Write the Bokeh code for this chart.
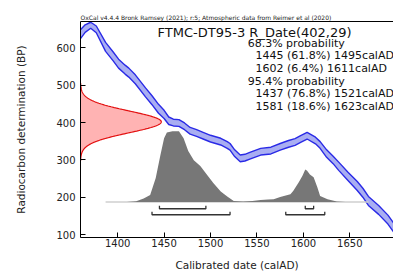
import numpy as np
from bokeh.plotting import figure
from bokeh.models import Label, LinearAxis, FixedTicker
from bokeh.embed import file_html
from bokeh.resources import INLINE

# ---------------- data ----------------
title_text = "OxCal v4.4.4 Bronk Ramsey (2021); r:5; Atmospheric data from Reimer et al (2020)"
sample_label = "FTMC-DT95-3 R_Date(402,29)"
prob_lines = [
    ("68.3% probability", False),
    ("1445 (61.8%) 1495calAD", True),
    ("1602 (6.4%) 1611calAD", True),
    ("95.4% probability", False),
    ("1437 (76.8%) 1521calAD", True),
    ("1581 (18.6%) 1623calAD", True),
]

# radiocarbon date
c14_mean = 402
c14_sigma = 29

# calibration curve (calAD, BP, 1-sigma)
curve_year = [1360, 1365, 1371, 1377, 1387, 1395, 1401, 1408, 1412, 1419, 1430, 1437,
              1444, 1450, 1455, 1460, 1466, 1472, 1478, 1485, 1492, 1500, 1511, 1518,
              1521, 1526, 1532, 1537, 1543, 1554, 1565, 1575, 1584, 1591, 1597, 1604,
              1613, 1618, 1625, 1632, 1638, 1648, 1658, 1664, 1670, 1681, 1691, 1697]
curve_bp = [637, 652, 661, 650, 603, 578, 558, 542, 534, 516, 481, 460,
            437, 422, 405, 400, 399, 390, 378, 372, 365, 357, 349, 340,
            335, 318, 304, 306, 312, 322, 325, 335, 343, 348, 356, 365,
            352, 340, 317, 300, 283, 256, 230, 212, 190, 166, 140, 119]
curve_sig = [12, 10, 8, 9, 12, 12, 12, 12, 12, 12, 12, 12,
             12, 11, 10, 9, 9, 9, 9, 9, 9, 9, 9, 9,
             9, 9, 9, 9, 9, 9, 9, 9, 9, 9, 9, 9,
             9, 9, 10, 10, 11, 11, 12, 12, 12, 12, 12, 12]

# calibrated probability distribution (calAD, relative probability)
dist_year = [1387, 1410, 1420, 1428, 1435, 1441, 1446, 1450, 1453, 1459, 1466, 1471,
             1476, 1482, 1489, 1497, 1503, 1511, 1518, 1525, 1535, 1545, 1554, 1562,
             1568, 1575, 1579, 1586, 1589, 1595, 1599, 1602, 1604, 1607, 1611, 1615,
             1618, 1626, 1636, 1645, 1670]
dist_prob = [0.0, 0.0, 0.01, 0.05, 0.10, 0.34, 0.66, 0.90, 0.98, 1.0, 1.0, 0.90,
             0.72, 0.59, 0.51, 0.37, 0.27, 0.15, 0.08, 0.015, 0.007, 0.015, 0.03, 0.035,
             0.04, 0.07, 0.085, 0.11, 0.155, 0.28, 0.37, 0.46, 0.44, 0.39, 0.35, 0.21,
             0.085, 0.04, 0.007, 0.0, 0.0]

range68 = [(1445, 1495), (1602, 1611)]
range95 = [(1437, 1521), (1581, 1623)]

# ---------------- figure ----------------
FONT = "DejaVu Sans"
x0, x1 = 1360, 1697
y0, y1 = 92, 671

p = figure(width=393, height=273, x_range=(x0, x1), y_range=(y0, y1),
           output_backend="svg", toolbar_location=None,
           min_border_left=80, min_border_right=0, min_border_top=21, min_border_bottom=33)
p.outline_line_color = None
p.xgrid.visible = False
p.ygrid.visible = False
p.background_fill_color = "white"
p.border_fill_color = "white"

p.title.text = title_text
p.title.text_font = FONT
p.title.text_font_size = "6px"
p.title.text_font_style = "normal"
p.title.align = "left"
p.title.standoff = 1
p.title.text_color = "#222222"

for ax in (p.xaxis[0], p.yaxis[0]):
    ax.major_tick_in = 5
    ax.major_tick_out = 0
    ax.minor_tick_in = 3
    ax.minor_tick_out = 0
    ax.major_label_text_font = FONT
    ax.major_label_text_font_size = "10px"
    ax.major_label_text_color = "#222222"
    ax.axis_label_text_font = FONT
    ax.axis_label_text_font_size = "10.5px"
    ax.axis_label_text_font_style = "normal"
    ax.axis_label_text_color = "#222222"
    ax.axis_line_color = "black"
    ax.major_tick_line_color = "black"
    ax.minor_tick_line_color = "black"

p.xaxis.ticker = [1400, 1450, 1500, 1550, 1600, 1650]
p.xaxis[0].ticker.num_minor_ticks = 5
p.xaxis.axis_label = "Calibrated date (calAD)"
p.xaxis.major_label_standoff = 1
p.xaxis.axis_label_standoff = 9

p.yaxis.ticker = [100, 200, 300, 400, 500, 600]
p.yaxis[0].ticker.num_minor_ticks = 10
p.yaxis.axis_label = "Radiocarbon determination (BP)"
p.yaxis.major_label_standoff = 5
p.yaxis.axis_label_standoff = 26

# top frame line as an empty axis
top_axis = LinearAxis(ticker=FixedTicker(ticks=[]), major_tick_in=0, major_tick_out=0,
                      minor_tick_in=0, minor_tick_out=0, major_label_text_font_size="0px",
                      axis_line_color="black", axis_line_width=1.2)
p.add_layout(top_axis, "above")

# calibration curve band
cy = np.array(curve_year, dtype=float)
cb = np.array(curve_bp, dtype=float)
cs = np.array(curve_sig, dtype=float)
p.varea(x=cy, y1=cb - cs, y2=cb + cs, fill_color="#a9aef2")
p.line(cy, cb + cs, line_color="#2a2ae6", line_width=1.4)
p.line(cy, cb - cs, line_color="#2a2ae6", line_width=1.4)

# radiocarbon date gaussian on y-axis
ys = np.linspace(c14_mean - 3.6 * c14_sigma, c14_mean + 3.6 * c14_sigma, 200)
g = np.exp(-0.5 * ((ys - c14_mean) / c14_sigma) ** 2)
gx = x0 + 87 * g
p.harea(y=ys, x1=np.full_like(ys, x0), x2=gx, fill_color="#ff9a9a", fill_alpha=0.75)
p.line(gx, ys, line_color="#e31010", line_width=1.2)

# calibrated distribution
base = 187
scale = 190
dy = np.array(dist_year, dtype=float)
dp = np.array(dist_prob, dtype=float)
p.line([dy[0], dy[-1]], [base, base], line_color="#cfcfcf", line_width=1.5)
p.varea(x=dy, y1=np.full_like(dp, base), y2=base + scale * dp, fill_color="#777777")

# range brackets
def brackets(ranges, yb, h=8):
    xs, ysl = [], []
    for a, b in ranges:
        xs.append([a, a, b, b])
        ysl.append([yb + h, yb, yb, yb + h])
    return xs, ysl

bx, byy = brackets(range68, 169)
p.multi_line(bx, byy, line_color="#333333", line_width=1.3)
bx, byy = brackets(range95, 153)
p.multi_line(bx, byy, line_color="#333333", line_width=1.3)

# texts
p.add_layout(Label(x=1443, y=642, text=sample_label, text_font=FONT, text_font_size="13px",
                   text_baseline="middle", text_color="#111111"))
ty = 613
for txt, indent in prob_lines:
    p.add_layout(Label(x=1548.5 if indent else 1540, y=ty, text=txt, text_font=FONT,
                       text_font_size="11px", text_baseline="middle", text_color="#111111"))
    ty -= 33.9

open("out.html", "w").write(file_html(p, INLINE))
